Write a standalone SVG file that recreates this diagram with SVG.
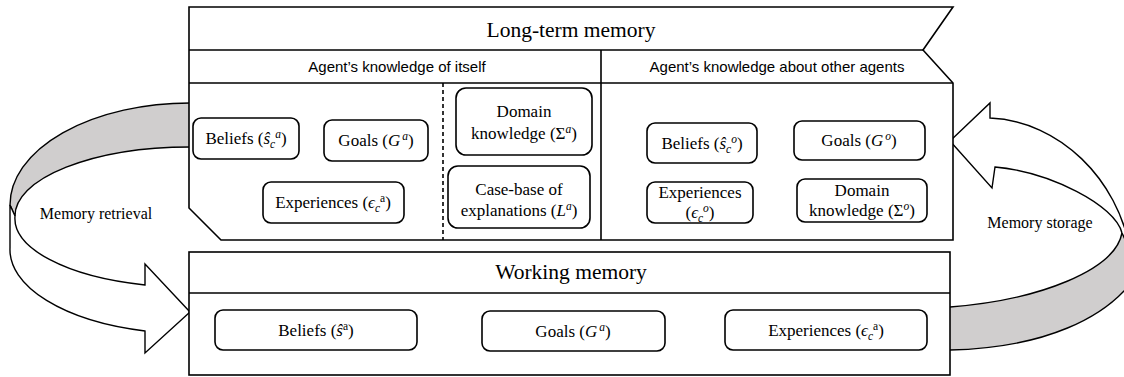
<svg xmlns="http://www.w3.org/2000/svg" width="1124" height="377" viewBox="0 0 1124 377">
<style>
.ln{fill:none;stroke:#000;stroke-width:1.6}
.frame{fill:#fff;stroke:#000;stroke-width:1.6}
.box{fill:#fff;stroke:#000;stroke-width:1.6}
.gray{fill:#d0cece;stroke:#000;stroke-width:1.4}
.front{fill:#fff;stroke:#000;stroke-width:1.4}
.t{font-family:"Liberation Serif","Times New Roman",serif;font-size:17px;fill:#000;text-anchor:middle}
.h{font-family:"Liberation Serif","Times New Roman",serif;font-size:21.5px;fill:#000;text-anchor:middle}
.lab{font-family:"Liberation Serif","Times New Roman",serif;font-size:16px;fill:#000;text-anchor:middle}
.s{font-family:"Liberation Sans",Arial,sans-serif;font-size:15px;fill:#000;text-anchor:middle}
.i{font-style:italic}
.sm{font-size:11.5px}
</style>
<rect width="1124" height="377" fill="#fff"/>

<g id="connectors">
  <g id="memory-retrieval">
    <path class="gray" d="M200,103 L190,103 A180,102 0 0 0 10,205 L15,216 A175,69 0 0 1 190,147 L200,147 Z"/>
    <path class="front" d="M10,205 L10,248 A180,84 0 0 0 145,331 L145,353 L190,312 L145,264 L145,285 A175,69 0 0 1 15,216 Z"/>
    <text class="lab" x="96" y="219">Memory retrieval</text>
  </g>
  <g id="memory-storage">
    <path class="gray" d="M940,307 L950,307 C1040,300 1115,270 1122,233 L1140,233 L1140,270 C1110,320 1040,348 950,350 L940,350 Z"/>
    <path class="front" d="M990,118 C1060,121 1118,180 1130,250 L1122,233 C1115,205 1050,172 995,167 L992,188 L950,141 L990,103 Z"/>
    <text class="lab" x="1040" y="228">Memory storage</text>
  </g>
</g>

<g id="long-term-memory">
  <path class="frame" d="M189,7 L953,7 L923,50 L953,83 L953,240 L221,240 L189,208 Z"/>
  <path class="ln" d="M189,50 L923,50 M189,83 L953,83 M601,50 L601,240"/>
  <path class="ln" d="M443,83 L443,240" stroke-dasharray="4,3" stroke-width="1.2"/>
  <text class="h" x="571" y="37">Long-term memory</text>
  <text class="s" x="397" y="72">Agent’s knowledge of itself</text>
  <text class="s" x="777" y="72">Agent’s knowledge about other agents</text>
</g>

<g id="self-beliefs">
  <rect class="box" x="193" y="118" width="106" height="41" rx="8"/>
  <text class="t" x="246" y="144">Beliefs (<tspan class="i">ŝ</tspan><tspan class="i sm" dy="4">c</tspan><tspan class="i sm" dy="-10">a</tspan><tspan dy="6">)</tspan></text>
</g>
<g id="self-goals">
  <rect class="box" x="324" y="120" width="104" height="41" rx="8"/>
  <text class="t" x="376" y="146">Goals (<tspan class="i">G</tspan><tspan class="i sm" dx="2" dy="-6">a</tspan><tspan dy="6">)</tspan></text>
</g>
<g id="self-experiences">
  <rect class="box" x="263" y="182" width="141" height="41" rx="8"/>
  <text class="t" x="333" y="208">Experiences (<tspan class="i">ϵ</tspan><tspan class="i sm" dy="4">c</tspan><tspan class="sm" dy="-10">a</tspan><tspan dy="6">)</tspan></text>
</g>
<g id="self-domain-knowledge">
  <rect class="box" x="456" y="88" width="136" height="67" rx="10"/>
  <text class="t" x="524" y="117">Domain</text>
  <text class="t" x="524" y="139">knowledge (Σ<tspan class="i sm" dy="-6">a</tspan><tspan dy="6">)</tspan></text>
</g>
<g id="self-case-base">
  <rect class="box" x="448" y="166" width="142" height="62" rx="10"/>
  <text class="t" x="519" y="195">Case-base of</text>
  <text class="t" x="519" y="216">explanations (<tspan class="i">L</tspan><tspan class="i sm" dy="-6">a</tspan><tspan dy="6">)</tspan></text>
</g>

<g id="other-beliefs">
  <rect class="box" x="647" y="123" width="110" height="40" rx="8"/>
  <text class="t" x="702" y="149">Beliefs (<tspan class="i">ŝ</tspan><tspan class="i sm" dy="4">c</tspan><tspan class="i sm" dy="-10">o</tspan><tspan dy="6">)</tspan></text>
</g>
<g id="other-goals">
  <rect class="box" x="794" y="121" width="131" height="39" rx="8"/>
  <text class="t" x="859" y="146">Goals (<tspan class="i">G</tspan><tspan class="i sm" dx="2" dy="-6">o</tspan><tspan dy="6">)</tspan></text>
</g>
<g id="other-experiences">
  <rect class="box" x="647" y="182" width="106" height="41" rx="8"/>
  <text class="t" x="700" y="198">Experiences</text>
  <text class="t" x="700" y="218">(<tspan class="i">ϵ</tspan><tspan class="i sm" dy="4">c</tspan><tspan class="i sm" dy="-10">o</tspan><tspan dy="6">)</tspan></text>
</g>
<g id="other-domain-knowledge">
  <rect class="box" x="797" y="179" width="130" height="43" rx="8"/>
  <text class="t" x="862" y="196">Domain</text>
  <text class="t" x="862" y="216">knowledge (Σ<tspan class="i sm" dy="-6">o</tspan><tspan dy="6">)</tspan></text>
</g>

<g id="working-memory">
  <rect class="frame" x="189" y="252" width="761" height="123"/>
  <path class="ln" d="M189,293 L950,293"/>
  <text class="h" x="571" y="279">Working memory</text>
</g>
<g id="wm-beliefs">
  <rect class="box" x="215" y="310" width="202" height="40" rx="8"/>
  <text class="t" x="316" y="336">Beliefs (<tspan class="i">ŝ</tspan><tspan class="sm" dy="-6">a</tspan><tspan dy="6">)</tspan></text>
</g>
<g id="wm-goals">
  <rect class="box" x="482" y="311" width="183" height="40" rx="8"/>
  <text class="t" x="573" y="337">Goals (<tspan class="i">G</tspan><tspan class="i sm" dx="2" dy="-6">a</tspan><tspan dy="6">)</tspan></text>
</g>
<g id="wm-experiences">
  <rect class="box" x="725" y="310" width="202" height="40" rx="8"/>
  <text class="t" x="826" y="336">Experiences (<tspan class="i">ϵ</tspan><tspan class="i sm" dy="4">c</tspan><tspan class="sm" dy="-10">a</tspan><tspan dy="6">)</tspan></text>
</g>
</svg>
